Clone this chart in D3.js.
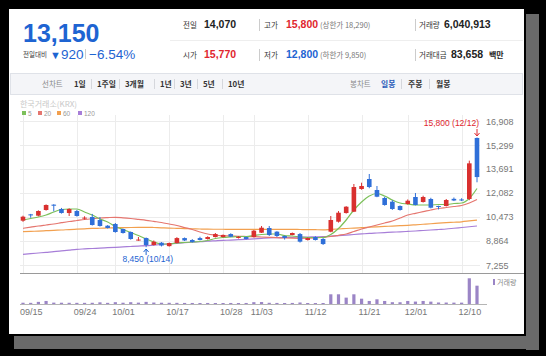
<!DOCTYPE html>
<html><head><meta charset="utf-8">
<script src="https://cdn.jsdelivr.net/npm/d3@7/dist/d3.min.js"></script>
<style>body{margin:0;background:#000;overflow:hidden}svg{display:block}</style>
</head><body><svg id="c" width="546" height="356"></svg>
<script>
const dates = ["09/15","09/16","09/17","09/18","09/19","09/22","09/23","09/24","09/25","09/26","09/29","09/30",
"10/01","10/02","10/10","10/13","10/14","10/15","10/16","10/17","10/20","10/21","10/22","10/23","10/24","10/27","10/28","10/29","10/30","10/31",
"11/03","11/04","11/05","11/06","11/07","11/10","11/11","11/12","11/13","11/14","11/17","11/18","11/19","11/20","11/21","11/24","11/25","11/26","11/27","11/28",
"12/01","12/02","12/03","12/04","12/05","12/08","12/09","12/10","12/11","12/12"];
const openP = [10225,10650,10560,10942,11300,11010,10740,10875,10370,10472,10270,9890,10003,9668,9467,8900,9065,8596,8750,8520,8730,9060,8930,9060,8998,9130,9130,9330,9065,9130,9130,9420,9735,9490,9200,9265,9330,8930,9130,9000,9487,10157,10740,10827,12349,13019,12282,11746,11498,11210,11344,11813,11478,11679,11210,11210,11690,11650,11679,15770];
const highP = [10560,10680,10920,11320,11330,11080,11050,10950,10520,10680,10470,9930,10070,9700,9500,9130,9100,8900,8790,8760,9120,9100,8990,9150,9180,9400,9300,9380,9200,9160,9600,9870,9870,9520,9230,9430,9400,9100,9180,9060,10540,10870,11200,12684,12772,13355,12550,11830,11600,11250,11650,12080,11900,11760,11230,11680,11780,11730,14250,15800];
const lowP = [10150,10420,10520,10900,10850,10700,10540,10500,10300,9900,9830,9700,9420,9360,8950,8880,8450,8560,8500,8490,8700,8860,8760,8900,8960,9100,9100,9120,9030,8970,9100,9400,9200,9130,8960,9250,8760,8900,8900,8600,9450,10100,10700,10800,12300,12400,11800,11230,10950,10900,11300,11250,11440,11050,10980,11180,11540,11540,11600,12800];
const closeP = [10493,10580,10875,11277,11230,10740,11010,10540,10430,9936,9870,9735,9467,9400,8998,8960,8596,8817,8560,8730,9060,8900,8800,8930,9130,9330,9270,9150,9150,9000,9555,9755,9265,9200,9070,9400,8820,9060,8930,8660,10271,10760,11163,12483,12550,12483,11833,11277,11009,10942,11565,11277,11813,11096,11143,11612,11580,11580,14070,13150];
const volume = [420000,380000,700000,1000000,450000,420000,400000,380000,380000,400000,550000,380000,600000,420000,600000,450000,700000,480000,420000,400000,380000,350000,340000,330000,340000,330000,330000,340000,320000,340000,600000,650000,400000,350000,330000,350000,500000,330000,320000,330000,3200000,3200000,2100000,3200000,1750000,1000000,1550000,1000000,600000,580000,1000000,800000,1000000,780000,500000,480000,450000,450000,8480000,6040913];
const ma5 = [10271,10372,10472,10607,10808,10975,11009,11009,10808,10607,10338,10137,9836,9635,9433,9232,8998,8797,8663,8663,8730,8763,8797,8830,8897,9031,9098,9132,9165,9165,9232,9299,9333,9333,9232,9199,9132,9098,9098,9098,9299,9702,10271,10942,11478,11880,12048,11880,11612,11411,11344,11277,11277,11277,11310,11310,11377,11411,11712,12383];
const ma20 = [9715,9789,9869,9936,10003,10090,10171,10238,10305,10358,10405,10432,10452,10419,10372,10312,10251,10177,10104,10003,9903,9769,9635,9467,9333,9266,9212,9199,9179,9165,9152,9132,9112,9092,9065,9051,9045,9051,9065,9112,9165,9246,9333,9500,9668,9802,9936,10070,10204,10405,10607,10721,10828,10942,11042,11109,11176,11243,11411,11645];
const ma60 = [9487,9510,9530,9555,9580,9600,9630,9655,9680,9705,9720,9735,9750,9760,9770,9778,9782,9770,9750,9730,9715,9700,9685,9668,9655,9652,9650,9648,9648,9648,9648,9648,9648,9648,9648,9642,9635,9628,9620,9614,9640,9670,9702,9730,9760,9790,9816,9840,9866,9890,9916,9950,9985,10020,10057,10090,10120,10151,10210,10271];
const ma120 = [7972,8015,8060,8105,8147,8200,8255,8307,8335,8360,8390,8415,8441,8468,8495,8522,8549,8590,8630,8670,8710,8745,8780,8815,8850,8875,8900,8928,8952,8978,9010,9045,9078,9088,9099,9110,9120,9131,9141,9152,9190,9225,9262,9300,9336,9373,9400,9427,9454,9480,9507,9534,9568,9600,9634,9668,9718,9768,9818,9869];
const yTicks = [7255,8864,10473,12082,13691,15299,16908];
const xTicks = ["09/15","09/24","10/01","10/17","10/28","11/03","11/12","11/21","12/01","12/10"];
const maNames = ["5","20","60","120"];
const tabs1 = ["1일","1주일","3개월","1년","3년","5년","10년"];
const tabs2 = ["일봉","주봉","월봉"];

const svg = d3.select("#c");
const KR = "'Noto Sans CJK KR','Liberation Sans',sans-serif";
const NUM = "'Liberation Sans','Noto Sans CJK KR',sans-serif";
const RED = "#e0262e", BLUE = "#1e64d2";

// shadow + panel
svg.append("rect").attr("x",526).attr("y",14).attr("width",13).attr("height",336).attr("fill","#6a6a6a");
svg.append("rect").attr("x",14).attr("y",336).attr("width",525).attr("height",13).attr("fill","#6a6a6a");
svg.append("rect").attr("x",9).attr("y",9).attr("width",515).attr("height",325).attr("fill","#fff");

const t = (x,y,txt,o={}) => svg.append("text").attr("x",x).attr("y",y).text(txt)
  .attr("font-family",o.f||NUM).attr("font-size",o.s||11).attr("font-weight",o.w||"normal")
  .attr("fill",o.c||"#222").attr("text-anchor",o.a||"start");

// header
t(23,42,"13,150",{s:25,w:"bold",c:BLUE});
t(23,57,"전일대비",{f:KR,s:6.5,c:"#333"});
const chg = svg.append("text").attr("x",50).attr("y",59).attr("font-family",NUM).attr("fill",BLUE);
chg.append("tspan").attr("font-size",11).text("▼");
chg.append("tspan").attr("font-size",13.5).text("920");
svg.append("line").attr("x1",85.5).attr("x2",85.5).attr("y1",49).attr("y2",59).attr("stroke","#ccc");
t(89,59,"−6.54%",{s:13.5,c:BLUE});
svg.append("line").attr("x1",170).attr("x2",523).attr("y1",40.5).attr("y2",40.5).attr("stroke","#eee");
const L = {f:KR,s:7.5,c:"#333"};
t(183,28,"전일",L); t(204,28,"14,070",{s:10.5,w:"bold",c:"#222"});
t(264,28,"고가",L); t(286,28,"15,800",{s:10.5,w:"bold",c:RED}); t(320,28,"(상한가 18,290)",{f:KR,s:7.5,c:"#777"});
t(419,28,"거래량",L); t(444,28,"6,040,913",{s:10.5,w:"bold",c:"#222"});
t(183,58,"시가",L); t(204,58,"15,770",{s:10.5,w:"bold",c:RED});
t(264,58,"저가",L); t(286,58,"12,800",{s:10.5,w:"bold",c:BLUE}); t(320,58,"(하한가 9,850)",{f:KR,s:7.5,c:"#777"});
t(419,58,"거래대금",L); t(451,58,"83,658",{s:10.5,w:"bold",c:"#222"}); t(489,58,"백만",{f:KR,s:8,w:"bold",c:"#222"});
[[259.5,19,31],[259.5,49,61],[415.5,19,31],[415.5,49,61]].forEach(d=>svg.append("line").attr("x1",d[0]).attr("x2",d[0]).attr("y1",d[1]).attr("y2",d[2]).attr("stroke","#ccc"));

// tab bar
svg.append("rect").attr("x",10.5).attr("y",73.5).attr("width",512).attr("height",21).attr("fill","#f4f5f8").attr("stroke","#dfe2e8");
t(42,87,"선차트",{f:KR,s:7.5,c:"#888"});
const tabX = [74,97,125,160,180,203,228];
tabs1.forEach((d,i)=>{ t(tabX[i],87,d,{f:KR,s:7.8,w:"bold",c:"#333"});
  if(i>0) svg.append("line").attr("x1",tabX[i]-5.5).attr("x2",tabX[i]-5.5).attr("y1",79).attr("y2",89).attr("stroke","#d5d7dc"); });
t(350,87,"봉차트",{f:KR,s:7.5,c:"#888"});
const tab2X = [381,408,436];
tabs2.forEach((d,i)=>{ t(tab2X[i],87,d,{f:KR,s:7.8,w:"bold",c:i==0?"#2a5bb8":"#333"});
  if(i>0) svg.append("line").attr("x1",tab2X[i]-6.5).attr("x2",tab2X[i]-6.5).attr("y1",79).attr("y2",89).attr("stroke","#d5d7dc"); });

// scales
const x = d3.scalePoint().domain(dates).range([23,477]);
const y = d3.scaleLinear().domain([7255,16908]).range([265,121]);
const yv = d3.scaleLinear().domain([0,9000000]).range([304,276.7]);

// grid
const g = svg.append("g");
yTicks.forEach(v=>{
  g.append("line").attr("x1",20).attr("x2",480).attr("y1",Math.round(y(v))+0.5).attr("y2",Math.round(y(v))+0.5).attr("stroke","#ececec");
  t(486,y(v)+3.5,d3.format(",")(v),{s:9,c:"#777"});
});
xTicks.forEach(d=>{
  g.append("line").attr("x1",Math.round(x(d))+0.5).attr("x2",Math.round(x(d))+0.5).attr("y1",115).attr("y2",273).attr("stroke","#ececec");
  t(x(d)-3,315,d,{s:9,c:"#777"});
});
svg.append("line").attr("x1",20).attr("x2",524).attr("y1",273.5).attr("y2",273.5).attr("stroke","#9a9a9a");
svg.append("line").attr("x1",20).attr("x2",487).attr("y1",304.5).attr("y2",304.5).attr("stroke","#b5b5b5");

// source + legend
t(20,107,"한국거래소(KRX)",{f:KR,s:8,c:"#c8c8c8"});
const maColors = ["#7cc05a","#e5766f","#f2a04f","#a77ed8"];
const legX = [22,38,57,78];
maNames.forEach((n,i)=>{
  svg.append("rect").attr("x",legX[i]).attr("y",111).attr("width",4).attr("height",4).attr("fill",maColors[i]);
  t(legX[i]+6,115.5,n,{s:6.5,c:"#999"});
});

// MA lines
const line = d3.line().x((d,i)=>x(dates[i])).y(d=>y(d)).curve(d3.curveMonotoneX);
[ma120,ma60,ma20,ma5].forEach((s,k)=>{
  svg.append("path").attr("d",line(s)).attr("fill","none").attr("stroke",maColors[3-k]).attr("stroke-width",1.2);
});

// candles
const cg = svg.append("g");
dates.forEach((d,i)=>{
  const up = closeP[i] >= openP[i];
  const col = up ? "#d9302f" : "#2f6fd8";
  const cx = x(d);
  cg.append("line").attr("x1",cx).attr("x2",cx).attr("y1",y(highP[i])).attr("y2",y(lowP[i])).attr("stroke",col).attr("stroke-width",1);
  const y0 = y(Math.max(openP[i],closeP[i])), y1 = y(Math.min(openP[i],closeP[i]));
  cg.append("rect").attr("x",cx-2.3).attr("width",4.6).attr("y",y0).attr("height",Math.max(1,y1-y0)).attr("fill",col);
});

// volume
dates.forEach((d,i)=>{
  svg.append("rect").attr("x",x(d)-1.6).attr("width",3.2).attr("y",yv(volume[i])).attr("height",304-yv(volume[i])).attr("fill","#9b85c6");
});
svg.append("rect").attr("x",493).attr("y",279).attr("width",2).attr("height",6).attr("fill","#9b85c6");
t(497,285,"거래량",{f:KR,s:7,c:"#888"});

// annotations
const iH = d3.maxIndex(highP), iL = d3.minIndex(lowP);
t(x(dates[iH])+2,126,d3.format(",")(highP[iH])+" ("+dates[iH]+")",{s:8.5,c:RED,a:"end"});
const hx = x(dates[iH]);
svg.append("line").attr("x1",hx).attr("x2",hx).attr("y1",129).attr("y2",135).attr("stroke",RED).attr("stroke-width",1);
svg.append("path").attr("d",`M${hx-2.5},133 L${hx},136 L${hx+2.5},133`).attr("fill","none").attr("stroke",RED).attr("stroke-width",1);
const lx = x(dates[iL]);
svg.append("line").attr("x1",lx).attr("x2",lx).attr("y1",249).attr("y2",255).attr("stroke",BLUE).attr("stroke-width",1);
svg.append("path").attr("d",`M${lx-2.5},252 L${lx},249 L${lx+2.5},252`).attr("fill","none").attr("stroke",BLUE).attr("stroke-width",1);
t(lx+27,262,d3.format(",")(lowP[iL])+" ("+dates[iL]+")",{s:8.5,c:BLUE,a:"end"});
</script></body></html>
